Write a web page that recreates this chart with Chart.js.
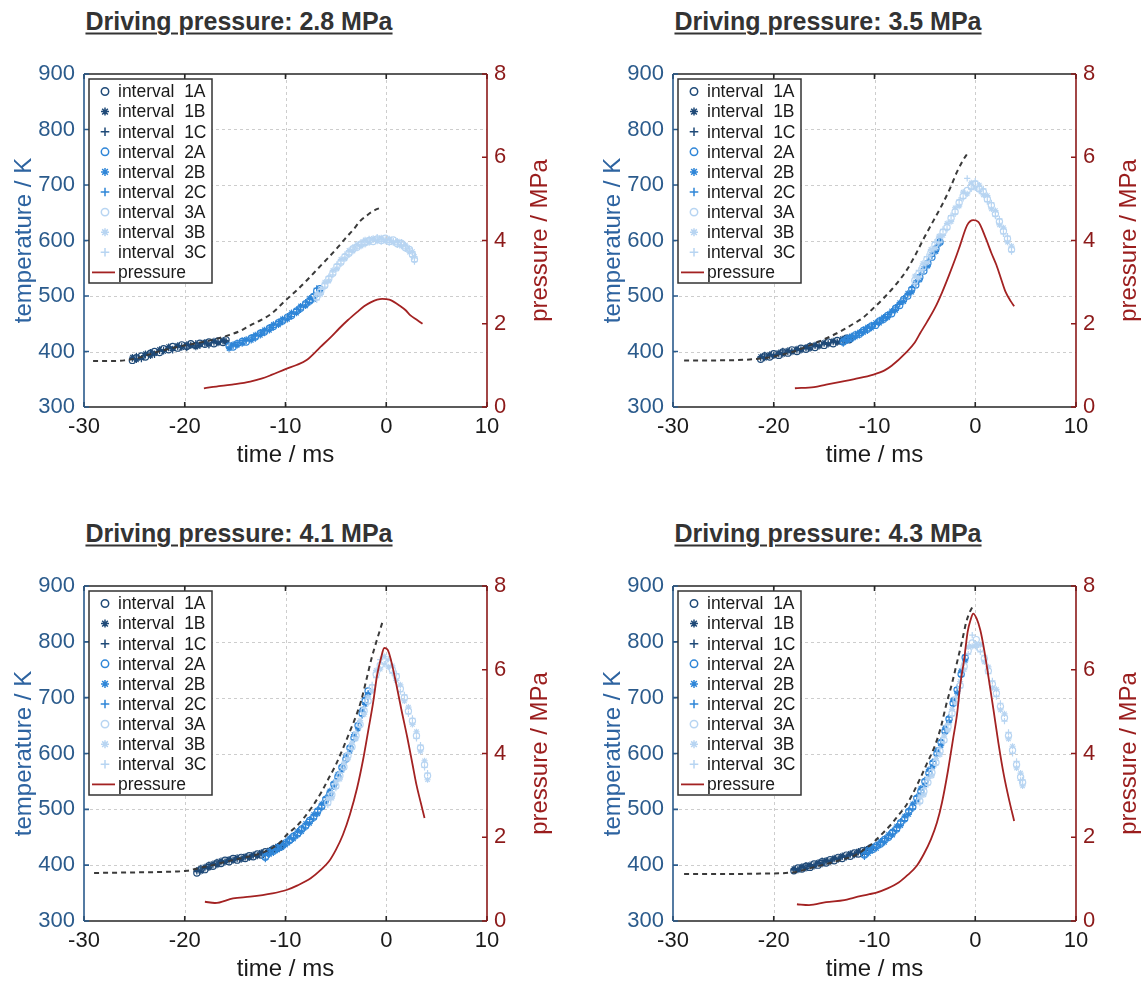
<!DOCTYPE html>
<html>
<head>
<meta charset="utf-8">
<script src="https://cdn.jsdelivr.net/npm/chart.js@4.4.1/dist/chart.umd.min.js"></script>
<style>
  html, body { margin: 0; padding: 0; background: #fff; width: 1142px; height: 981px; overflow: hidden; }
  canvas { position: absolute; }
  .ttl {
    position: absolute; white-space: nowrap; line-height: 1;
    font: bold 25px "Liberation Sans", Arial, sans-serif; color: #333;
    text-decoration: underline; text-decoration-thickness: 2px; text-underline-offset: 3px;
    transform: translate(-50%, -50%);
  }
</style>
</head>
<body>
<script>
const FONT = '"Liberation Sans", Arial, sans-serif';

const titles = ['Driving pressure: 2.8 MPa', 'Driving pressure: 3.5 MPa', 'Driving pressure: 4.1 MPa', 'Driving pressure: 4.3 MPa'];
const subsetNames = ['A', 'B', 'C'];
const subsetStyles = ['circle', 'star', 'cross'];
const intervalColors = ['#1f4a78', '#2f86d8', '#b8d5f2'];

// ---- 2.8 MPa ----
const dashT28 = [-29.1, -27.5, -26, -24.5, -23, -21.5, -20, -18.5, -17, -15.7, -14.5, -13.5, -12.4, -11.4, -10, -8.9, -7.9, -6.8, -5.7, -4.8, -4, -3.2, -2.6, -2, -1.5, -1, -0.4];
const dashK28 = [383, 383, 384, 389, 398, 405, 411, 416, 422, 429, 437, 447, 457, 468, 492, 510, 528, 549, 570, 588, 605, 621, 635, 644, 651, 656, 660];
const presT28 = [-18.1, -16.4, -15, -13.5, -12.4, -11.4, -10, -8.9, -7.9, -6.5, -5.5, -4.7, -3.8, -2.9, -2.2, -1.5, -0.9, -0.4, 0.3, 0.8, 1.3, 1.9, 2.4, 3, 3.6];
const presP28 = [0.45, 0.51, 0.55, 0.61, 0.68, 0.77, 0.91, 1.01, 1.13, 1.45, 1.68, 1.88, 2.09, 2.28, 2.42, 2.52, 2.58, 2.6, 2.58, 2.52, 2.44, 2.33, 2.2, 2.1, 2.0];
// rows: [time, A, B, C]
const int1_28 = [[-25.2, 384, 390, 387], [-24.8, 389, 385, 392], [-24.3, 392, 388, 386], [-23.9, 390, 396, 393], [-23.4, 397, 392, 399], [-23.0, 400, 396, 394], [-22.5, 398, 404, 401], [-22.1, 405, 400, 403], [-21.6, 403, 409, 406], [-21.2, 409, 405, 402], [-20.7, 406, 411, 408], [-20.3, 412, 407, 410], [-19.8, 409, 413, 406], [-19.4, 414, 410, 412], [-18.9, 411, 408, 415], [-18.5, 415, 412, 410], [-18.0, 413, 417, 414], [-17.6, 417, 413, 411], [-17.1, 414, 419, 416], [-16.7, 419, 415, 417], [-16.2, 416, 420, 418], [-15.9, 421, 417, 419]];
const int2_28 = [[-15.6, 410, 405, 408], [-15.2, 408, 413, 410], [-14.8, 414, 411, 416], [-14.3, 418, 414, 420], [-13.9, 417, 422, 419], [-13.4, 424, 420, 426], [-13.0, 426, 430, 423], [-12.5, 433, 429, 435], [-12.1, 435, 439, 433], [-11.6, 442, 438, 444], [-11.2, 445, 449, 443], [-10.7, 452, 448, 454], [-10.3, 455, 459, 453], [-9.8, 462, 458, 464], [-9.4, 465, 470, 463], [-8.9, 473, 469, 476], [-8.5, 478, 482, 475], [-8.0, 486, 482, 489], [-7.6, 491, 496, 488], [-7.2, 499, 494, 503], [-6.9, 509, 503, 514], [-6.6, 513, 507, 510]];
const int3_28 = [[-6.9, 498, 504, 493], [-6.5, 508, 503, 512], [-6.1, 519, 525, 516], [-5.7, 531, 527, 535], [-5.3, 541, 546, 538], [-4.9, 553, 549, 557], [-4.5, 561, 566, 558], [-4.1, 571, 567, 575], [-3.7, 577, 582, 574], [-3.3, 585, 581, 588], [-2.9, 588, 593, 586], [-2.5, 594, 590, 597], [-2.1, 596, 601, 593], [-1.7, 600, 596, 603], [-1.3, 598, 604, 601], [-0.9, 603, 599, 606], [-0.5, 600, 605, 598], [-0.1, 604, 599, 602], [0.3, 598, 603, 596], [0.7, 601, 596, 599], [1.1, 594, 599, 592], [1.5, 595, 590, 597], [1.9, 587, 592, 585], [2.3, 584, 579, 586], [2.6, 575, 580, 571], [2.8, 566, 571, 562]];

// ---- 3.5 MPa ----
const dashT35 = [-28.9, -26, -23, -21, -19.5, -18, -16.6, -15, -13.4, -12, -11.2, -10, -9.1, -8, -6.9, -6, -5.1, -4.2, -3.3, -2.5, -1.8, -1.2, -0.8];
const dashK35 = [384, 384, 385, 388, 393, 400, 410, 422, 436, 451, 460, 480, 496, 518, 544, 572, 604, 634, 664, 694, 724, 745, 756];
const presT35 = [-17.9, -16, -14.8, -13, -12, -10.1, -9, -8.3, -6.9, -6, -5.5, -4.8, -4, -3.3, -2.6, -2, -1.5, -0.8, -0.2, 0.3, 1.05, 1.6, 2.1, 2.6, 3.0, 3.5, 3.86];
const presP35 = [0.45, 0.48, 0.54, 0.62, 0.67, 0.78, 0.88, 0.99, 1.3, 1.55, 1.76, 2.04, 2.38, 2.75, 3.17, 3.55, 3.89, 4.37, 4.49, 4.45, 4.05, 3.7, 3.41, 3.05, 2.77, 2.55, 2.42];
const int1_35 = [[-21.3, 386, 391, 388], [-20.9, 392, 388, 394], [-20.4, 390, 395, 392], [-20.0, 396, 392, 394], [-19.5, 393, 398, 395], [-19.1, 399, 395, 401], [-18.6, 397, 402, 399], [-18.2, 403, 399, 401], [-17.7, 400, 405, 402], [-17.3, 406, 402, 404], [-16.8, 404, 408, 406], [-16.4, 409, 405, 411], [-15.9, 407, 412, 410], [-15.5, 413, 409, 411], [-15.0, 411, 416, 414], [-14.6, 417, 413, 415], [-14.1, 414, 419, 417], [-13.7, 420, 416, 418], [-13.2, 418, 423, 420], [-12.8, 424, 420, 422], [-12.5, 421, 426, 423]];
const int2_35 = [[-13.1, 417, 421, 414], [-12.7, 423, 419, 425], [-12.3, 424, 428, 422], [-11.9, 430, 426, 432], [-11.5, 431, 435, 429], [-11.1, 438, 434, 440], [-10.7, 440, 444, 437], [-10.3, 446, 442, 448], [-9.9, 447, 452, 449], [-9.5, 455, 451, 457], [-9.1, 458, 462, 456], [-8.7, 465, 461, 467], [-8.3, 468, 473, 470], [-7.9, 478, 474, 480], [-7.5, 483, 488, 485], [-7.1, 494, 490, 496], [-6.7, 500, 505, 502], [-6.3, 512, 507, 515], [-5.9, 520, 525, 522], [-5.5, 534, 529, 537], [-5.1, 545, 550, 547], [-4.7, 559, 554, 562], [-4.3, 570, 575, 572], [-3.9, 585, 580, 588], [-3.5, 597, 602, 594]];
const int3_35 = [[-6.0, 528, 536, 522], [-5.6, 540, 533, 546], [-5.2, 552, 559, 548], [-4.8, 566, 560, 571], [-4.4, 578, 584, 574], [-4.0, 592, 586, 597], [-3.6, 601, 608, 597], [-3.2, 615, 609, 620], [-2.8, 624, 631, 620], [-2.4, 640, 634, 645], [-2.0, 652, 659, 648], [-1.6, 668, 662, 673], [-1.2, 680, 687, 676], [-0.8, 690, 684, 712], [-0.4, 697, 704, 693], [0.0, 702, 695, 707], [0.4, 693, 700, 689], [0.8, 688, 682, 693], [1.2, 675, 681, 670], [1.6, 663, 657, 668], [2.0, 648, 654, 644], [2.4, 634, 628, 639], [2.8, 617, 623, 612], [3.2, 603, 597, 608], [3.6, 584, 590, 580]];

// ---- 4.1 MPa ----
const dashT41 = [-29, -25, -22, -19.8, -18.5, -17, -15, -13.5, -12.2, -11.3, -10.5, -9.9, -9, -8.2, -7.3, -6.4, -5.7, -5, -4.3, -3.6, -3, -2.5, -2, -1.45, -0.9, -0.4];
const dashK41 = [386, 387, 388, 390, 395, 401, 410, 416, 423, 431, 441, 454, 468, 484, 506, 532, 556, 580, 609, 640, 667, 694, 730, 771, 805, 834];
const presT41 = [-18, -17, -15.2, -13.5, -11.3, -9.9, -8.8, -7.5, -6.5, -5.7, -5, -4.3, -3.6, -2.9, -2.3, -1.8, -1.3, -0.9, -0.5, -0.2, 0.14, 0.5, 1.0, 1.5, 2.1, 2.6, 3.0, 3.4, 3.8];
const presP41 = [0.46, 0.43, 0.54, 0.58, 0.66, 0.74, 0.85, 1.02, 1.22, 1.42, 1.7, 2.06, 2.55, 3.17, 3.85, 4.53, 5.22, 5.88, 6.3, 6.52, 6.48, 6.2, 5.65, 5.05, 4.37, 3.75, 3.25, 2.85, 2.46];
const int1_41 = [[-18.8, 386, 391, 389], [-18.4, 393, 389, 395], [-18.0, 392, 397, 394], [-17.6, 399, 395, 401], [-17.2, 398, 403, 400], [-16.8, 404, 400, 406], [-16.4, 403, 408, 405], [-16.0, 409, 405, 407], [-15.6, 406, 411, 408], [-15.2, 412, 408, 410], [-14.8, 409, 414, 411], [-14.4, 414, 410, 412], [-14.0, 412, 416, 414], [-13.6, 417, 413, 415], [-13.2, 415, 419, 417], [-12.8, 420, 416, 418], [-12.4, 418, 423, 421], [-12.0, 424, 420, 422], [-11.6, 423, 427, 425], [-11.2, 429, 425, 431], [-10.8, 430, 434, 428], [-10.4, 436, 432, 434]];
const int2_41 = [[-12.0, 414, 420, 411], [-11.6, 423, 419, 425], [-11.2, 425, 429, 422], [-10.8, 431, 427, 433], [-10.4, 433, 438, 431], [-10.0, 440, 436, 442], [-9.6, 444, 449, 441], [-9.2, 452, 447, 454], [-8.8, 456, 461, 453], [-8.4, 465, 460, 467], [-8.0, 470, 475, 467], [-7.6, 480, 475, 482], [-7.2, 486, 491, 483], [-6.8, 497, 492, 500], [-6.4, 505, 510, 502], [-6.0, 518, 513, 521], [-5.6, 528, 533, 525], [-5.2, 545, 540, 548], [-4.8, 558, 563, 555], [-4.4, 575, 570, 578], [-4.0, 590, 596, 587], [-3.6, 610, 604, 613], [-3.2, 628, 634, 625], [-2.8, 650, 644, 654], [-2.4, 672, 678, 668], [-2.1, 694, 688, 700], [-1.8, 712, 706, 708]];
const int3_41 = [[-5.8, 512, 519, 508], [-5.4, 526, 520, 531], [-5.0, 542, 549, 538], [-4.6, 560, 554, 565], [-4.2, 576, 583, 572], [-3.8, 596, 590, 601], [-3.4, 612, 619, 608], [-3.0, 632, 626, 637], [-2.6, 652, 659, 648], [-2.2, 676, 670, 681], [-1.8, 694, 701, 690], [-1.4, 718, 712, 723], [-1.0, 742, 749, 736], [-0.6, 758, 751, 768], [-0.2, 766, 774, 760], [0.2, 762, 755, 769], [0.6, 750, 757, 744], [1.0, 738, 731, 743], [1.4, 716, 723, 711], [1.8, 700, 694, 705], [2.2, 676, 683, 671], [2.6, 658, 652, 663], [3.0, 632, 639, 627], [3.4, 610, 604, 615], [3.8, 580, 587, 575], [4.1, 560, 553, 565]];

// ---- 4.3 MPa ----
const dashT43 = [-28.9, -25, -21, -18.1, -16.5, -14.8, -13.4, -12, -11, -10.1, -9.2, -8.3, -7.6, -6.9, -6.2, -5.5, -4.8, -4, -3.4, -2.9, -2.3, -1.8, -1.3, -0.9, -0.5, -0.2];
const dashK43 = [384, 384, 385, 387, 394, 402, 409, 417, 428, 441, 457, 474, 490, 506, 528, 554, 582, 614, 648, 686, 726, 764, 802, 835, 855, 865];
const presT43 = [-17.7, -16.5, -14.8, -13, -12, -10.5, -9.8, -8.7, -7.6, -6.7, -5.8, -5.1, -4.4, -3.8, -3.3, -2.7, -2.2, -1.8, -1.5, -1.1, -0.76, -0.45, -0.2, 0.14, 0.5, 0.87, 1.3, 1.8, 2.3, 2.85, 3.4, 3.86];
const presP43 = [0.4, 0.38, 0.45, 0.5, 0.56, 0.64, 0.68, 0.78, 0.92, 1.1, 1.32, 1.6, 1.95, 2.35, 2.83, 3.6, 4.35, 4.95, 5.62, 6.25, 6.9, 7.2, 7.34, 7.22, 6.95, 6.5, 5.85, 5.06, 4.25, 3.47, 2.85, 2.39];
const int1_43 = [[-18.0, 390, 394, 392], [-17.6, 395, 391, 393], [-17.2, 393, 398, 396], [-16.8, 398, 394, 400], [-16.4, 396, 401, 398], [-16.0, 402, 398, 400], [-15.6, 400, 405, 403], [-15.2, 406, 402, 408], [-14.8, 404, 409, 406], [-14.4, 410, 406, 408], [-14.0, 408, 413, 411], [-13.6, 414, 410, 412], [-13.2, 412, 417, 415], [-12.8, 418, 414, 416], [-12.4, 416, 421, 419], [-12.0, 422, 418, 420], [-11.6, 420, 425, 423], [-11.2, 426, 422, 424], [-10.8, 425, 429, 427], [-10.4, 431, 427, 429]];
const int2_43 = [[-11.0, 418, 423, 415], [-10.6, 426, 421, 428], [-10.2, 428, 433, 426], [-9.8, 435, 430, 437], [-9.4, 438, 443, 436], [-9.0, 446, 441, 448], [-8.6, 450, 455, 448], [-8.2, 459, 454, 462], [-7.8, 465, 470, 462], [-7.4, 476, 471, 479], [-7.0, 483, 488, 480], [-6.6, 496, 491, 499], [-6.2, 504, 510, 501], [-5.8, 520, 514, 523], [-5.4, 532, 538, 529], [-5.0, 550, 544, 553], [-4.6, 565, 571, 562], [-4.2, 583, 577, 586], [-3.8, 600, 606, 597], [-3.4, 620, 614, 623], [-3.0, 640, 646, 637], [-2.6, 662, 656, 665], [-2.2, 690, 696, 686], [-1.8, 714, 708, 718], [-1.4, 742, 748, 738], [-1.0, 772, 766, 776]];
const int3_43 = [[-5.5, 515, 522, 511], [-5.1, 532, 526, 537], [-4.7, 548, 555, 544], [-4.3, 566, 560, 571], [-3.9, 584, 591, 580], [-3.5, 604, 598, 609], [-3.1, 624, 631, 620], [-2.7, 648, 642, 653], [-2.3, 672, 679, 668], [-1.9, 696, 690, 701], [-1.5, 722, 729, 718], [-1.1, 756, 750, 762], [-0.7, 784, 791, 778], [-0.3, 798, 792, 812], [0.1, 804, 796, 790], [0.5, 788, 795, 782], [0.9, 770, 764, 776], [1.3, 748, 755, 743], [1.7, 724, 718, 730], [2.1, 708, 715, 702], [2.5, 684, 678, 690], [2.9, 664, 671, 658], [3.3, 632, 626, 638], [3.7, 606, 613, 600], [4.1, 580, 574, 586], [4.5, 558, 565, 552], [4.7, 548, 542, 553]];

const panels = [
  { title: titles[0], plot: { l: 84, t: 74, r: 487, b: 407 }, dashT: dashT28, dashK: dashK28, presT: presT28, presP: presP28, ints: [int1_28, int2_28, int3_28] },
  { title: titles[1], plot: { l: 673, t: 74, r: 1076, b: 407 }, dashT: dashT35, dashK: dashK35, presT: presT35, presP: presP35, ints: [int1_35, int2_35, int3_35] },
  { title: titles[2], plot: { l: 84, t: 586, r: 487, b: 921 }, dashT: dashT41, dashK: dashK41, presT: presT41, presP: presP41, ints: [int1_41, int2_41, int3_41] },
  { title: titles[3], plot: { l: 673, t: 586, r: 1076, b: 921 }, dashT: dashT43, dashK: dashK43, presT: presT43, presP: presP43, ints: [int1_43, int2_43, int3_43] }
];

const LW = 84, RW = 80, TP = 34, BH = 80;
const leftColor = '#2b5b8c', rightColor = '#8c1a1a';

// grid, frame with inward ticks, legend box, right axis title
const framePlugin = {
  id: 'frame',
  beforeDatasetsDraw(chart) {
    const { ctx, chartArea: ca, scales } = chart;
    ctx.save();
    ctx.strokeStyle = '#cdcdcd';
    ctx.lineWidth = 1;
    ctx.setLineDash([3, 3]);
    scales.x.ticks.forEach(t => {
      if (t.value === scales.x.min || t.value === scales.x.max) return;
      const px = Math.round(scales.x.getPixelForValue(t.value)) + 0.5;
      ctx.beginPath(); ctx.moveTo(px, ca.top); ctx.lineTo(px, ca.bottom); ctx.stroke();
    });
    scales.y.ticks.forEach(t => {
      if (t.value === scales.y.min || t.value === scales.y.max) return;
      const py = Math.round(scales.y.getPixelForValue(t.value)) + 0.5;
      ctx.beginPath(); ctx.moveTo(ca.left, py); ctx.lineTo(ca.right, py); ctx.stroke();
    });
    ctx.restore();
  },
  afterDatasetsDraw(chart) {
    const { ctx, chartArea: ca, scales } = chart;
    const TL = 5;
    ctx.save();
    ctx.setLineDash([]);
    ctx.lineWidth = 1.6;
    // top / bottom
    ctx.strokeStyle = '#262626';
    ctx.beginPath();
    ctx.moveTo(ca.left, ca.top); ctx.lineTo(ca.right, ca.top);
    ctx.moveTo(ca.left, ca.bottom); ctx.lineTo(ca.right, ca.bottom);
    scales.x.ticks.forEach(t => {
      const px = scales.x.getPixelForValue(t.value);
      ctx.moveTo(px, ca.bottom); ctx.lineTo(px, ca.bottom - TL);
      ctx.moveTo(px, ca.top); ctx.lineTo(px, ca.top + TL);
    });
    ctx.stroke();
    // left
    ctx.strokeStyle = leftColor;
    ctx.beginPath();
    ctx.moveTo(ca.left, ca.top); ctx.lineTo(ca.left, ca.bottom);
    scales.y.ticks.forEach(t => {
      const py = scales.y.getPixelForValue(t.value);
      ctx.moveTo(ca.left, py); ctx.lineTo(ca.left + TL, py);
    });
    ctx.stroke();
    // right
    ctx.strokeStyle = rightColor;
    ctx.beginPath();
    ctx.moveTo(ca.right, ca.top); ctx.lineTo(ca.right, ca.bottom);
    scales.y2.ticks.forEach(t => {
      const py = scales.y2.getPixelForValue(t.value);
      ctx.moveTo(ca.right, py); ctx.lineTo(ca.right - TL, py);
    });
    ctx.stroke();

    // right axis title, reading bottom to top
    ctx.save();
    ctx.translate(ca.right + 53, (ca.top + ca.bottom) / 2);
    ctx.rotate(-Math.PI / 2);
    ctx.font = '24px ' + FONT;
    ctx.fillStyle = '#9a1d1d';
    ctx.textAlign = 'center';
    ctx.textBaseline = 'middle';
    ctx.fillText('pressure / MPa', 0, 0);
    ctx.restore();

    // legend
    const items = chart.data.datasets.filter(d => d.label);
    const bx = ca.left + 5, by = ca.top + 5, bw = 123, bh = 204, rowH = 20.1;
    ctx.fillStyle = '#fff';
    ctx.fillRect(bx, by, bw, bh);
    ctx.strokeStyle = '#333';
    ctx.lineWidth = 1.5;
    ctx.strokeRect(bx, by, bw, bh);
    ctx.font = '17.5px ' + FONT;
    ctx.textBaseline = 'middle';
    ctx.textAlign = 'left';
    items.forEach((d, i) => {
      const cy = by + 12.5 + i * rowH, cx = bx + 16;
      ctx.strokeStyle = d.borderColor;
      ctx.lineWidth = 1.5;
      ctx.beginPath();
      if (d.legendLine) {
        ctx.lineWidth = 1.8;
        ctx.moveTo(bx + 3, cy); ctx.lineTo(bx + 26, cy);
      } else if (d.pointStyle === 'circle') {
        ctx.arc(cx, cy, 3.7, 0, Math.PI * 2);
      } else if (d.pointStyle === 'star') {
        const r = 4, q = r * 0.7071;
        ctx.moveTo(cx - r, cy); ctx.lineTo(cx + r, cy);
        ctx.moveTo(cx, cy - r); ctx.lineTo(cx, cy + r);
        ctx.moveTo(cx - q, cy - q); ctx.lineTo(cx + q, cy + q);
        ctx.moveTo(cx - q, cy + q); ctx.lineTo(cx + q, cy - q);
      } else {
        const r = 4.3;
        ctx.moveTo(cx - r, cy); ctx.lineTo(cx + r, cy);
        ctx.moveTo(cx, cy - r); ctx.lineTo(cx, cy + r);
      }
      ctx.stroke();
      ctx.fillStyle = '#1a1a1a';
      ctx.fillText(d.label, bx + 29, cy + 1);
    });
    ctx.restore();
  }
};

function makePanel(p) {
  const pl = p.plot;
  const box = { x: pl.l - LW, y: pl.t - TP, w: LW + (pl.r - pl.l) + RW, h: TP + (pl.b - pl.t) + BH };

  const ttl = document.createElement('div');
  ttl.className = 'ttl';
  ttl.textContent = p.title;
  ttl.style.left = (pl.l + 155) + 'px';
  ttl.style.top = (pl.t - 53) + 'px';
  document.body.appendChild(ttl);

  const cv = document.createElement('canvas');
  cv.width = box.w; cv.height = box.h;
  cv.style.left = box.x + 'px'; cv.style.top = box.y + 'px';
  cv.style.width = box.w + 'px'; cv.style.height = box.h + 'px';
  document.body.appendChild(cv);

  const datasets = [];
  p.ints.forEach((rows, k) => {
    subsetStyles.forEach((st, j) => {
      datasets.push({
        type: 'scatter',
        label: 'interval  ' + (k + 1) + subsetNames[j],
        data: rows.map(r => ({ x: r[0], y: r[1 + j] })),
        pointStyle: st,
        pointRadius: 3.1,
        pointHoverRadius: 3.1,
        borderWidth: 1.2,
        borderColor: intervalColors[k],
        backgroundColor: 'rgba(0,0,0,0)',
        showLine: false,
        yAxisID: 'y',
        order: 5 - k
      });
    });
  });
  datasets.push({
    type: 'line',
    label: 'pressure',
    legendLine: true,
    data: p.presT.map((t, i) => ({ x: t, y: p.presP[i] })),
    borderColor: '#a32222',
    borderWidth: 1.8,
    pointRadius: 0,
    cubicInterpolationMode: 'monotone',
    fill: false,
    yAxisID: 'y2',
    order: 1
  });
  datasets.push({
    type: 'line',
    label: '',
    data: p.dashT.map((t, i) => ({ x: t, y: p.dashK[i] })),
    borderColor: '#3a3a3a',
    borderWidth: 2,
    borderDash: [5, 4],
    pointRadius: 0,
    cubicInterpolationMode: 'monotone',
    fill: false,
    yAxisID: 'y',
    order: 0
  });

  new Chart(cv, {
    type: 'scatter',
    data: { datasets },
    options: {
      responsive: false,
      animation: false,
      layout: { padding: { top: TP, left: 0, right: 0, bottom: 0 } },
      plugins: { legend: { display: false }, tooltip: { enabled: false } },
      scales: {
        x: {
          type: 'linear', min: -30, max: 10,
          grid: { display: false, drawTicks: false },
          border: { display: false },
          ticks: { stepSize: 10, autoSkip: false, maxRotation: 0, color: '#1a1a1a', padding: 6.5, font: { family: FONT, size: 22 } },
          title: { display: true, text: 'time / ms', color: '#1a1a1a', font: { family: FONT, size: 24 }, padding: { top: 0, bottom: 17.6 } },
          afterFit: s => { s.height = BH; }
        },
        y: {
          type: 'linear', position: 'left', min: 300, max: 900,
          grid: { display: false, drawTicks: false },
          border: { display: false },
          ticks: { stepSize: 100, autoSkip: false, color: leftColor, padding: 9, font: { family: FONT, size: 22 } },
          title: { display: true, text: 'temperature / K', color: '#2d63a0', font: { family: FONT, size: 24 }, padding: { top: 9.6, bottom: 0 } },
          afterFit: s => { s.width = LW; }
        },
        y2: {
          type: 'linear', position: 'right', min: 0, max: 8,
          grid: { display: false, drawTicks: false },
          border: { display: false },
          ticks: { stepSize: 2, autoSkip: false, color: rightColor, padding: 7, font: { family: FONT, size: 22 } },
          afterFit: s => { s.width = RW; }
        }
      }
    },
    plugins: [framePlugin]
  });
}

panels.forEach(makePanel);
</script>
</body>
</html>
